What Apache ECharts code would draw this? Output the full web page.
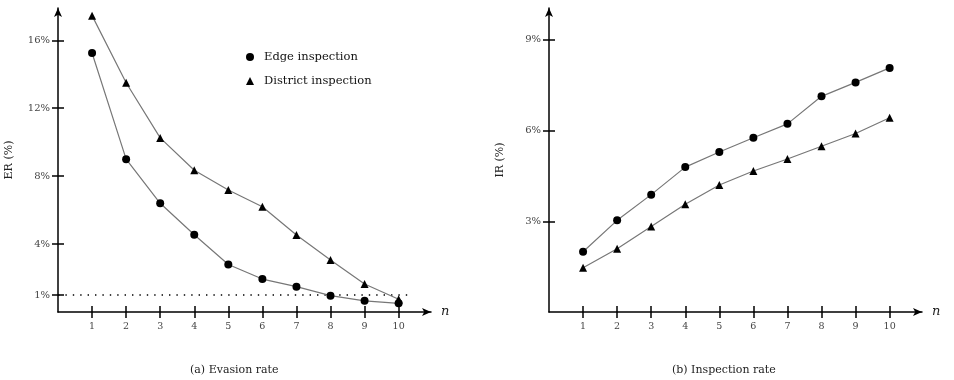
<!DOCTYPE html>
<html>
<head>
<meta charset="utf-8">
<script src="https://cdn.jsdelivr.net/npm/echarts@6/dist/echarts.min.js"></script>
<style>
  html, body { margin: 0; padding: 0; background: #fff; }
  #main { width: 954px; height: 380px; }
</style>
</head>
<body>
<div id="main"></div>
<script>
// number of rounds n
const nValues = [1, 2, 3, 4, 5, 6, 7, 8, 9, 10];
// (a) evasion rate, %
const erEdge = [15.25, 9.0, 6.4, 4.55, 2.8, 1.94, 1.49, 0.96, 0.66, 0.51];
const erDistrict = [17.45, 13.5, 10.25, 8.35, 7.18, 6.2, 4.53, 3.06, 1.65, 0.75];
// (b) inspection rate, %
const irEdge = [1.99, 3.03, 3.88, 4.79, 5.29, 5.76, 6.22, 7.13, 7.59, 8.07];
const irDistrict = [1.46, 2.09, 2.83, 3.56, 4.2, 4.66, 5.06, 5.48, 5.9, 6.42];
// tick labels
const nTicks = [1, 2, 3, 4, 5, 6, 7, 8, 9, 10];
const erTicks = [1, 4, 8, 12, 16];
const irTicks = [3, 6, 9];
// 1% threshold (dotted)
const threshold = [[0, 1], [10.3, 1]];

const FONT = 'DejaVu Serif';
const myChart = echarts.init(document.getElementById('main'));

function pair(ys) {
  return nValues.map((n, i) => [n, ys[i]]);
}

// x axes: one with outside ticks + labels, one with inside ticks only
function xAxes(gridIndex) {
  return [
    {
      gridIndex, type: 'value', min: 0, max: 10.95, position: 'bottom',
      name: 'n', nameLocation: 'end', nameGap: 10,
      nameTextStyle: { fontFamily: FONT, fontStyle: 'italic', fontSize: 13, color: '#222' },
      axisLine: { lineStyle: { color: '#000', width: 1.5 }, symbol: ['none', 'arrow'], symbolSize: [6, 9] },
      axisTick: { customValues: nTicks, length: 6, lineStyle: { color: '#000', width: 1.5 } },
      axisLabel: { customValues: nTicks, margin: 10, fontFamily: FONT, fontSize: 9.5, color: '#444' },
      splitLine: { show: false }
    },
    {
      gridIndex, type: 'value', min: 0, max: 10.95, position: 'bottom', offset: 0,
      axisLine: { show: false },
      axisTick: { inside: true, customValues: nTicks, length: 6, lineStyle: { color: '#000', width: 1.5 } },
      axisLabel: { show: false },
      splitLine: { show: false }
    }
  ];
}

function yAxes(gridIndex, max, ticks, name) {
  return [
    {
      gridIndex, type: 'value', min: 0, max, position: 'left',
      name, nameLocation: 'middle', nameRotate: 90, nameGap: 43,
      nameTextStyle: { fontFamily: FONT, fontSize: 11, color: '#222' },
      axisLine: { lineStyle: { color: '#000', width: 1.5 }, symbol: ['none', 'arrow'], symbolSize: [6, 9] },
      axisTick: { customValues: ticks, length: 6, lineStyle: { color: '#000', width: 1.5 } },
      axisLabel: { customValues: ticks, margin: 8, fontFamily: FONT, fontSize: 10, color: '#444', formatter: '{value}%' },
      splitLine: { show: false }
    },
    {
      gridIndex, type: 'value', min: 0, max, position: 'left', offset: 0,
      axisLine: { show: false },
      axisTick: { inside: true, customValues: ticks, length: 6, lineStyle: { color: '#000', width: 1.5 } },
      axisLabel: { show: false },
      splitLine: { show: false }
    }
  ];
}

function rateSeries(name, symbol, xi, yi, data) {
  return {
    name, type: 'line', xAxisIndex: xi, yAxisIndex: yi, data,
    symbol, symbolSize: 8,
    lineStyle: { color: '#777', width: 1.2 },
    itemStyle: { color: '#000' },
    z: 3
  };
}

myChart.setOption({
  animation: false,
  backgroundColor: '#fff',
  textStyle: { fontFamily: FONT },
  grid: [
    { left: 58, top: 8, width: 373, height: 304 },
    { left: 549, top: 8, width: 373, height: 304 }
  ],
  xAxis: [...xAxes(0), ...xAxes(1)],
  yAxis: [...yAxes(0, 17.9, erTicks, 'ER (%)'), ...yAxes(1, 10.05, irTicks, 'IR (%)')],
  legend: {
    orient: 'vertical', left: 241, top: 46,
    itemWidth: 8, itemHeight: 8, itemGap: 12,
    textStyle: { fontFamily: FONT, fontSize: 11.5, color: '#111', padding: [0, 0, 0, 5] },
    data: [
      { name: 'Edge inspection', icon: 'circle' },
      { name: 'District inspection', icon: 'triangle' }
    ]
  },
  graphic: [
    { type: 'text', left: 190, top: 365, style: { text: '(a) Evasion rate', font: '11px "DejaVu Serif"', fill: '#222' } },
    { type: 'text', left: 672, top: 365, style: { text: '(b) Inspection rate', font: '11px "DejaVu Serif"', fill: '#222' } }
  ],
  series: [
    {
      name: 'threshold', type: 'line', xAxisIndex: 0, yAxisIndex: 0, data: threshold,
      symbol: 'none', lineStyle: { color: '#000', width: 1.4, type: [1.4, 6] }, z: 1
    },
    rateSeries('Edge inspection', 'circle', 0, 0, pair(erEdge)),
    rateSeries('District inspection', 'triangle', 0, 0, pair(erDistrict)),
    rateSeries('Edge inspection', 'circle', 2, 2, pair(irEdge)),
    rateSeries('District inspection', 'triangle', 2, 2, pair(irDistrict))
  ]
});
</script>
</body>
</html>
